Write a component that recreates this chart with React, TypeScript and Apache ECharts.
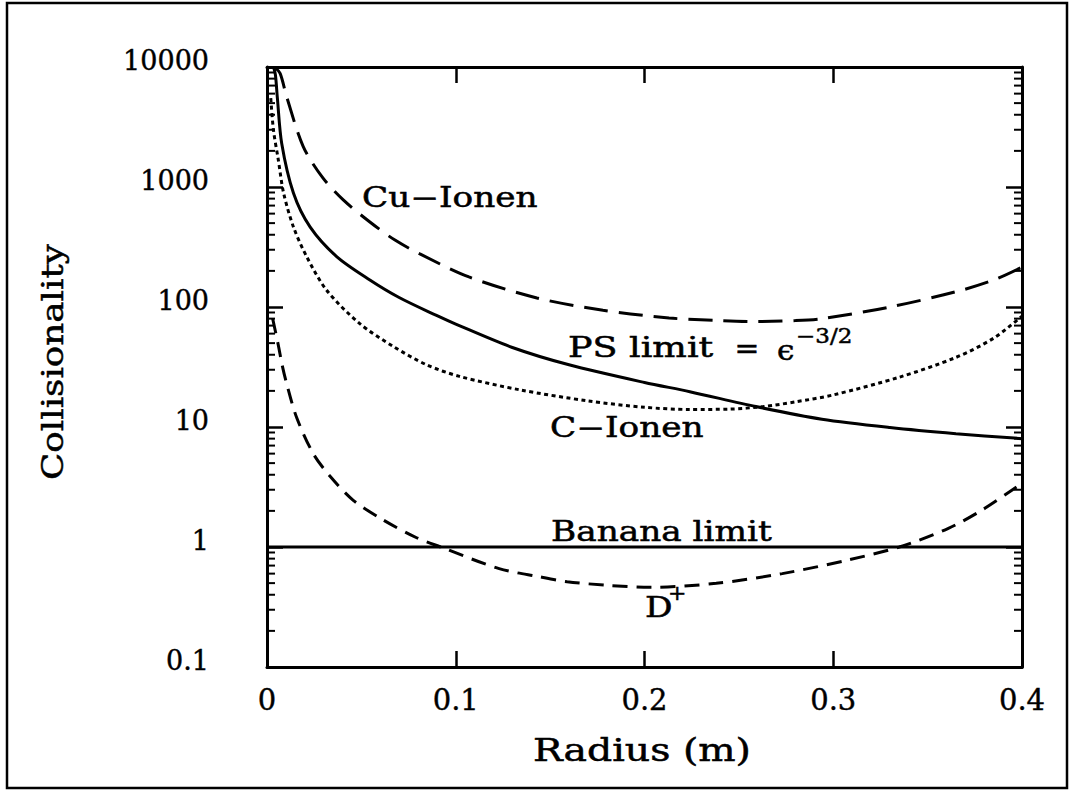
import React, { useEffect, useRef } from "react";
import * as echarts from "echarts";

// ---------- data ----------
const xTickLabels = ["0", "0.1", "0.2", "0.3", "0.4"];
const yTickLabels = ["0.1", "1", "10", "100", "1000", "10000"];

// Cu-Ionen (long dashes)
const cuRadius = [0.004, 0.007, 0.0104, 0.0192, 0.0296, 0.0404, 0.0545, 0.0678, 0.081, 0.107, 0.143, 0.178, 0.213, 0.24, 0.259, 0.28, 0.294, 0.33, 0.365, 0.385, 0.4];
const cuValues = [10000, 8800, 5660, 2170, 1190, 780, 511, 361, 277, 178, 119, 94, 81, 77, 75.6, 77, 80, 100, 134, 168, 215];

// C-Ionen (solid)
const cRadius = [0.0035, 0.0045, 0.0055, 0.0078, 0.014, 0.0228, 0.0369, 0.0545, 0.07, 0.0898, 0.1, 0.13, 0.16, 0.2, 0.224, 0.259, 0.294, 0.33, 0.365, 0.4];
const cValues = [10000, 8500, 5500, 2300, 890, 465, 263, 168, 120, 85, 72, 46, 33, 23.5, 19.7, 14.8, 11.6, 9.9, 8.8, 8.0];

// PS limit (dotted)
const psRadius = [0.002, 0.0034, 0.006, 0.0088, 0.014, 0.021, 0.0316, 0.049, 0.0668, 0.0845, 0.102, 0.134, 0.17, 0.2, 0.224, 0.245, 0.263, 0.28, 0.3, 0.335, 0.365, 0.385, 0.4];
const psValues = [5500, 3000, 1680, 890, 465, 263, 138, 73, 47, 33, 26.4, 20.4, 16.5, 14.6, 14.0, 14.1, 14.8, 16.2, 18.5, 26, 38, 55, 84];

// D+ (short dashes)
const dRadius = [0.003, 0.006, 0.008, 0.0104, 0.0157, 0.0245, 0.0333, 0.0457, 0.0616, 0.079, 0.092, 0.123, 0.144, 0.159, 0.18, 0.203, 0.238, 0.273, 0.308, 0.335, 0.361, 0.379, 0.395, 0.4];
const dValues = [80, 48, 33, 23, 12, 6.0, 3.9, 2.45, 1.68, 1.2, 1.0, 0.66, 0.566, 0.514, 0.48, 0.461, 0.498, 0.6, 0.78, 1.0, 1.43, 2.04, 3.0, 3.4];

// Banana limit
const bananaRadius = [0, 0.4];
const bananaValues = [1, 1];

// log minor ticks
const minorTickValues = [
  0.2, 0.3, 0.4, 0.5, 0.6, 0.7, 0.8, 0.9,
  2, 3, 4, 5, 6, 7, 8, 9,
  20, 30, 40, 50, 60, 70, 80, 90,
  200, 300, 400, 500, 600, 700, 800, 900,
  2000, 3000, 4000, 5000, 6000, 7000, 8000, 9000,
];

const zip = (xs: number[], ys: number[]) => xs.map((x, i) => [x, ys[i]]);

const FONT = '"DejaVu Serif", serif';
const SX = 1.27;

function txt(text: string, x: number, y: number, size: number, extra: any = {}) {
  return {
    type: "text",
    x,
    y,
    scaleX: extra.scaleX ?? SX,
    rotation: extra.rotation ?? 0,
    z: 100,
    style: {
      text,
      fill: "#000",
      stroke: "#000",
      lineWidth: 0.5,
      font: `${size}px ${FONT}`,
      align: extra.align ?? "left",
      verticalAlign: "middle",
      textAlign: extra.align ?? "left",
      textVerticalAlign: "middle",
    },
  };
}

export default function App() {
  const ref = useRef<HTMLDivElement>(null);

  useEffect(() => {
    if (!ref.current) return;
    const chart = echarts.init(ref.current, undefined, { renderer: "svg" });

    const axisLine = { show: true, onZero: false, lineStyle: { color: "#000", width: 3 } };
    const tick = { show: true, inside: true, length: 16, lineStyle: { color: "#000", width: 2.5 } };
    const lineSeries = (name: string, data: number[][], type: any, z = 5) => ({
      name,
      type: "line",
      data,
      xAxisIndex: 0,
      yAxisIndex: 0,
      showSymbol: false,
      symbol: "none",
      smooth: 0.3,
      z,
      lineStyle: { color: "#000", width: 3, type },
    });

    chart.setOption({
      animation: false,
      backgroundColor: "#fff",
      grid: { left: 267, top: 67, width: 755, height: 600 },
      xAxis: [
        {
          type: "value",
          position: "bottom",
          min: 0,
          max: 0.4,
          interval: 0.1,
          axisLine,
          axisTick: tick,
          axisLabel: {
            show: true,
            margin: 18,
            color: "#000",
            fontFamily: FONT,
            fontSize: 29,
            textBorderColor: "#000",
            textBorderWidth: 0.4,
            formatter: (v: number) => xTickLabels[Math.round(v / 0.1)] ?? "",
          },
          splitLine: { show: false },
        },
        {
          type: "value",
          position: "top",
          min: 0,
          max: 0.4,
          interval: 0.1,
          axisLine,
          axisTick: tick,
          axisLabel: { show: false },
          splitLine: { show: false },
        },
      ],
      yAxis: [
        {
          type: "log",
          logBase: 10,
          position: "left",
          min: 0.1,
          max: 10000,
          splitNumber: 5,
          axisLine,
          axisTick: tick,
          axisLabel: {
            show: true,
            margin: 58,
            color: "#000",
            fontFamily: FONT,
            fontSize: 27,
            verticalAlign: "bottom",
            lineHeight: 14,
            textBorderColor: "#000",
            textBorderWidth: 0.4,
            formatter: (v: number) => yTickLabels[Math.round(Math.log10(v)) + 1] ?? "",
          },
          splitLine: { show: false },
        },
        {
          type: "log",
          logBase: 10,
          position: "right",
          min: 0.1,
          max: 10000,
          splitNumber: 5,
          axisLine,
          axisTick: tick,
          axisLabel: { show: false },
          splitLine: { show: false },
        },
      ],
      series: [
        lineSeries("Cu-Ionen", zip(cuRadius, cuValues), [24, 11]),
        lineSeries("C-Ionen", zip(cRadius, cValues), "solid"),
        lineSeries("PS limit", zip(psRadius, psValues), [4, 3.5]),
        lineSeries("D+", zip(dRadius, dValues), [15, 9]),
        { ...lineSeries("Banana limit", zip(bananaRadius, bananaValues), "solid"), smooth: false },
        {
          type: "custom",
          name: "minor ticks",
          xAxisIndex: 0,
          yAxisIndex: 0,
          data: minorTickValues.map((v) => [0, v]),
          encode: { x: 0, y: 1 },
          silent: true,
          z: 6,
          renderItem: (_params: any, api: any) => {
            const v = api.value(1);
            const pL = api.coord([0, v]);
            const pR = api.coord([0.4, v]);
            const st = { stroke: "#000", lineWidth: 2 };
            return {
              type: "group",
              children: [
                { type: "line", shape: { x1: pL[0], y1: pL[1], x2: pL[0] + 8, y2: pL[1] }, style: st },
                { type: "line", shape: { x1: pR[0] - 8, y1: pR[1], x2: pR[0], y2: pR[1] }, style: st },
              ],
            };
          },
        },
      ],
      graphic: [
        {
          type: "rect",
          shape: { x: 7, y: 3, width: 1060, height: 785 },
          style: { fill: "none", stroke: "#000", lineWidth: 2.5 },
          z: 0,
        },
        txt("Cu\u2212Ionen", 362, 197, 27),
        txt("PS limit", 568, 348, 27, { scaleX: 1.35 }),
        txt("=", 747, 349, 27, { align: "center", scaleX: 1.1 }),
        txt("\u03f5", 777, 351, 27, { scaleX: 1.15 }),
        txt("\u22123/2", 796, 336, 20, { scaleX: 1.15 }),
        txt("C\u2212Ionen", 550, 427, 27),
        txt("Banana limit", 551, 531, 27),
        txt("D", 645, 607, 27),
        txt("+", 668, 593, 20, { scaleX: 1.1 }),
        txt("Radius (m)", 642, 750, 31, { align: "center", scaleX: 1.27 }),
        txt("Collisionality", 53, 362, 30, { align: "center", scaleX: 1.19, rotation: Math.PI / 2 }),
      ],
    });

    return () => chart.dispose();
  }, []);

  return (
    <div
      ref={ref}
      style={{ position: "absolute", left: 0, top: 0, width: 1071, height: 792, background: "#fff" }}
    />
  );
}
